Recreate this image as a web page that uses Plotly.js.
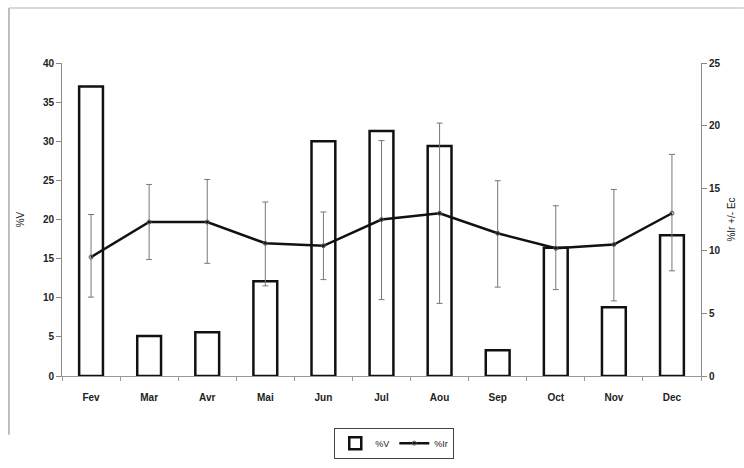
<!DOCTYPE html>
<html>
<head>
<meta charset="utf-8">
<script src="https://cdn.plot.ly/plotly-3.0.1.min.js"></script>
<style>html,body{margin:0;padding:0;background:#fff}#chart{width:744px;height:468px}</style>
</head>
<body>
<div id="chart"></div>
<script>
var months = ["Fev","Mar","Avr","Mai","Jun","Jul","Aou","Sep","Oct","Nov","Dec"];
var pctV = [37, 5.1, 5.6, 12.1, 30.0, 31.3, 29.4, 3.3, 16.4, 8.8, 18.0];
var pctIr = [9.5, 12.3, 12.3, 10.6, 10.4, 12.5, 13.0, 11.4, 10.2, 10.5, 13.0];
var irUpper = [12.9, 15.3, 15.7, 13.9, 13.1, 18.8, 20.2, 15.6, 13.6, 14.9, 17.7];
var irLower = [6.3, 9.3, 9.0, 7.2, 7.7, 6.1, 5.8, 7.1, 6.9, 6.0, 8.4];

var errPlus = pctIr.map(function(v,i){return irUpper[i]-v;});
var errMinus = pctIr.map(function(v,i){return v-irLower[i];});

var traces = [
  {
    type: "bar", name: "%V", x: months, y: pctV,
    width: 0.41,
    marker: {color: "#ffffff", line: {color: "#111", width: 2.5}},
    xaxis: "x", yaxis: "y"
  },
  {
    type: "scatter", mode: "lines+markers", name: "%Ir", x: months, y: pctIr,
    line: {color: "#111", width: 2.5},
    marker: {symbol: "circle-open", size: 4, color: "#555", line: {width: 1}},
    error_y: {type: "data", symmetric: false, array: errPlus, arrayminus: errMinus,
              color: "#777", thickness: 1, width: 3},
    xaxis: "x", yaxis: "y2"
  }
];

var fam = "Liberation Sans, Arial, sans-serif";
var tickFont = {family: fam, size: 10, color: "#222", weight: "bold"};

var layout = {
  width: 744, height: 468,
  margin: {l: 62, r: 43, t: 63, b: 92, autoexpand: false},
  paper_bgcolor: "#fff", plot_bgcolor: "#fff",
  showlegend: true,
  legend: {
    orientation: "h", x: 0.52, xanchor: "center", y: -0.165, yanchor: "top",
    bordercolor: "#444", borderwidth: 1,
    font: {family: fam, size: 9, color: "#222"},
    itemwidth: 30, tracegroupgap: 0
  },
  xaxis: {
    type: "category", range: [-0.5, 10.5],
    showline: true, linecolor: "#999", linewidth: 1,
    ticks: "outside", ticklen: 4, tickcolor: "#999", tickson: "boundaries",
    ticklabelstandoff: 12,
    tickfont: tickFont, showgrid: false, zeroline: false, fixedrange: true
  },
  yaxis: {
    range: [0, 40], dtick: 5, showline: true, linecolor: "#888", linewidth: 1,
    ticks: "outside", ticklen: 5, tickcolor: "#888",
    tickfont: tickFont, showgrid: false, zeroline: false, automargin: false,
    title: {text: "%V", font: {family: fam, size: 10, color: "#222"}, standoff: 16}
  },
  yaxis2: {
    range: [0, 25], dtick: 5, overlaying: "y", side: "right",
    showline: true, linecolor: "#888", linewidth: 1,
    ticks: "outside", ticklen: 5, tickcolor: "#888",
    tickfont: tickFont, showgrid: false, zeroline: false, automargin: false,
    title: {text: "%Ir +/- Ec", font: {family: fam, size: 10, color: "#222"}, standoff: 8}
  },
  shapes: [
    {type: "line", xref: "paper", yref: "paper", x0: -0.083, x1: -0.083, y0: 1.176, y1: -0.188, line: {color: "#aaa", width: 1.5}},
    {type: "line", xref: "paper", yref: "paper", x0: -0.083, x1: 1.067, y0: 1.176, y1: 1.176, line: {color: "#ccc", width: 1.5}}
  ]
};

Plotly.newPlot("chart", traces, layout, {staticPlot: true});
</script>
</body>
</html>
